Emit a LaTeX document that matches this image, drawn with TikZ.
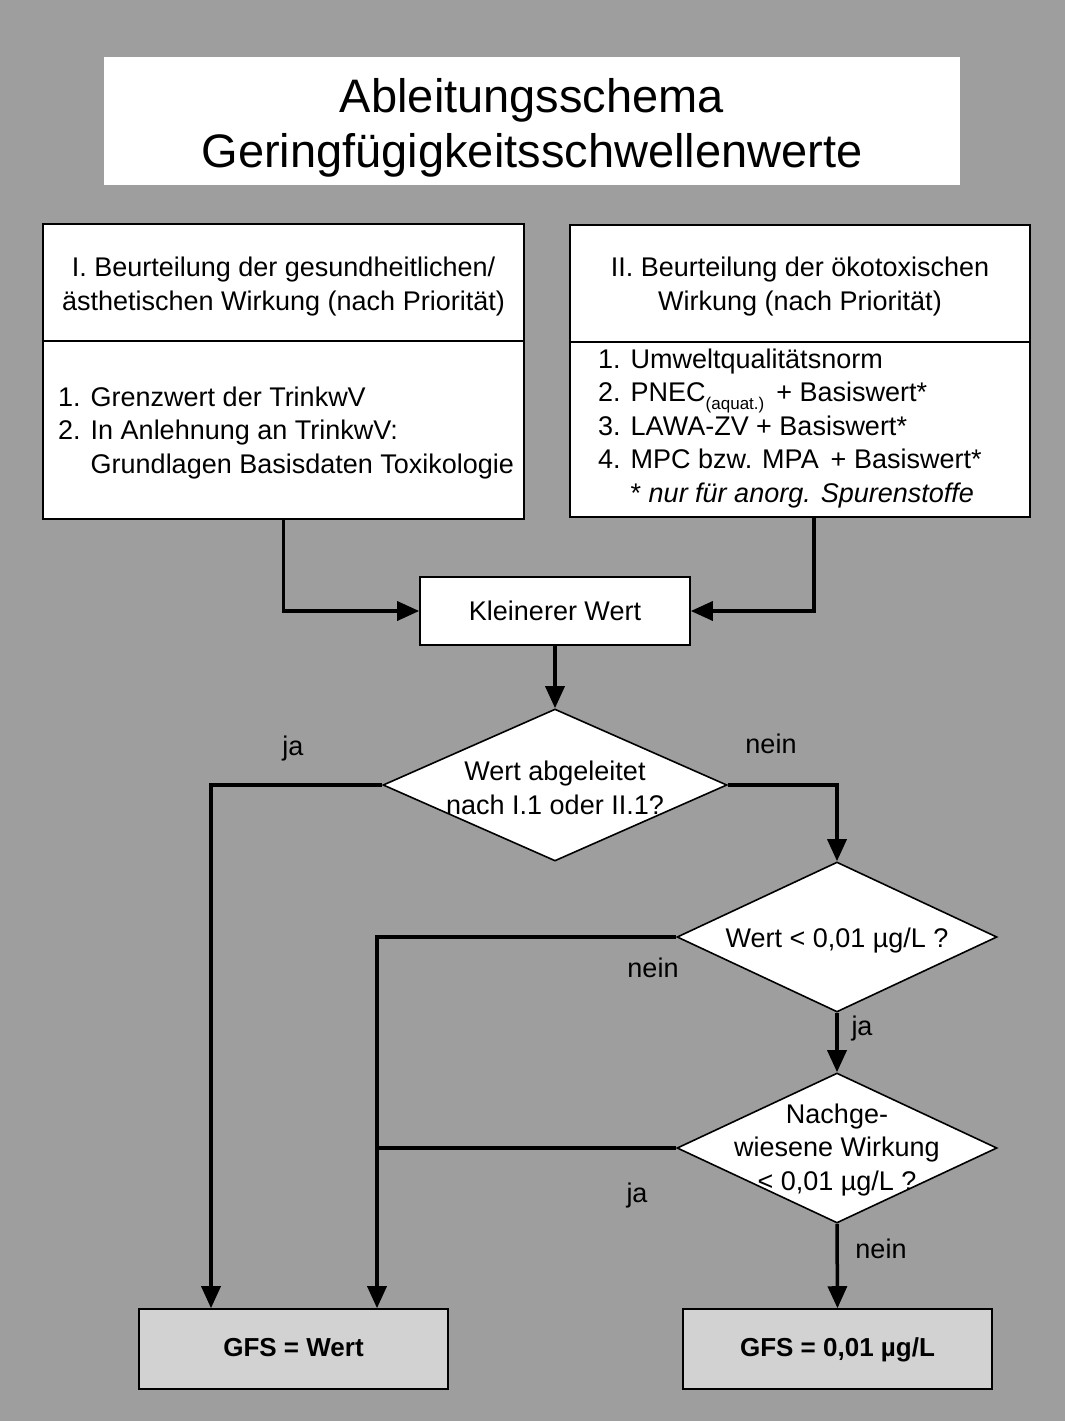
\documentclass[tikz,border=0pt]{standalone}
\usepackage{fontspec}
\setmainfont{Liberation Sans}
\usetikzlibrary{arrows.meta,shapes.geometric}
\definecolor{bg}{RGB}{158,158,158}
\definecolor{gfsfill}{RGB}{210,210,210}
\tikzset{
  box/.style={draw=black, fill=white, line width=1.6pt, inner sep=0pt},
  dia/.style={diamond, draw=black, fill=white, line width=1.6pt, inner sep=0pt},
  gfsbox/.style={draw=black, fill=gfsfill, line width=1.6pt, inner sep=0pt,
    text height=20pt, text depth=6pt,
    font=\bfseries\fontsize{26}{30}\selectfont},
  conn/.style={line width=3.5pt, -{Triangle[length=22pt,width=19pt]}},
  plainline/.style={line width=3.5pt},
  lbl/.style={inner sep=0pt, anchor=base},
  txt/.style={inner sep=0pt}
}
\begin{document}
\begin{tikzpicture}[x=1pt,y=-1pt,font=\fontsize{27}{33.5}\selectfont]
\path[use as bounding box, fill=bg] (0,0) rectangle (1065,1421);

% title
\node[fill=white, minimum width=856, minimum height=128, inner sep=0pt] (title) at (532,121) {};
\node[txt, anchor=base, align=center, font=\fontsize{47}{55}\selectfont] (titletext) at (532,167)
  {Ableitungsschema\\Geringfügigkeitsschwellenwerte};

% upper boxes
\node[box, minimum width=481, minimum height=117] (lh) at (283.5,282.5) {};
\node[box, minimum width=481, minimum height=178] (lb) at (283.5,430) {};
\node[box, minimum width=460, minimum height=117] (rh) at (800,283.5) {};
\node[box, minimum width=460, minimum height=175] (rb) at (800,429.5) {};

\node[txt, anchor=base, align=center] (lht) at (283.5,310)
  {I. Beurteilung der gesundheitlichen/\\ästhetischen Wirkung (nach Priorität)};
\node[txt, anchor=base, align=center] (rht) at (800,310)
  {II. Beurteilung der ökotoxischen\\Wirkung (nach Priorität)};
\node[txt, anchor=base west, align=left] (lbt) at (58,473)
  {1. Grenzwert der TrinkwV\\2. In Anlehnung an TrinkwV:\\\phantom{2. }Grundlagen Basisdaten Toxikologie};
\node[txt, anchor=base west, align=left] (rbt) at (598,502)
  {1. Umweltqualitätsnorm\\
   2. PNEC\raisebox{-8pt}{\fontsize{17}{17}\selectfont(aquat.)}\hspace{12pt}+ Basiswert*\\
   3. LAWA-ZV + Basiswert*\\
   4. MPC bzw. MPA\hspace{12pt}+ Basiswert*\\
   \phantom{1. }* \textit{nur für anorg. Spurenstoffe}};

% Kleinerer Wert
\node[box, minimum width=270, minimum height=68] (kw) at (555,611) {Kleinerer Wert};

% diamonds
\node[dia, minimum width=344, minimum height=152] (d1) at (555,785) {};
\node[txt, align=center] (d1t) at (555,788) {Wert abgeleitet\\nach I.1 oder II.1?};
\node[dia, minimum width=320, minimum height=150] (d2) at (837,937) {};
\node[txt] (d2t) at (837,941) {Wert < 0,01 µg/L ?};
\node[dia, minimum width=320, minimum height=150] (d3) at (837,1148) {};
\node[txt, align=center] (d3t) at (837,1150) {Nachge-\\wiesene Wirkung\\< 0,01 µg/L ?};

% result boxes
\node[gfsbox, minimum width=309, minimum height=80] (g1) at (293.5,1349) {GFS = Wert};
\node[gfsbox, minimum width=309, minimum height=80] (g2) at (837.5,1349) {GFS = 0,01 µg/L};
\coordinate (cv) at ([xshift=83.5pt]g1.north);
\coordinate (cl) at ([xshift=-82.5pt]g1.north);

% connectors
\draw[conn] (lb.south) |- (kw.west);
\draw[conn] ([xshift=14pt]rb.south) |- (kw.east);
\draw[conn] (kw.south) -- (d1.north);
\draw[conn] (d1.west) -| (cl);
\draw[conn] (d1.east) -| (d2.north);
\draw[conn] (d2.west) -| (cv);
\draw[conn] (d2.south) -- (d3.north);
\draw[plainline] (d3.west) -- (d3.west -| cv);
\draw[conn] (d3.south) -- (g2.north);

% labels
\node[lbl] (la) at (293,755) {ja};
\node[lbl] (lb1) at (771,753) {nein};
\node[lbl] (lc) at (653,977) {nein};
\node[lbl] (ld) at (862,1035) {ja};
\node[lbl] (le) at (637,1202) {ja};
\node[lbl] (lf) at (881,1258) {nein};
\end{tikzpicture}
\end{document}
